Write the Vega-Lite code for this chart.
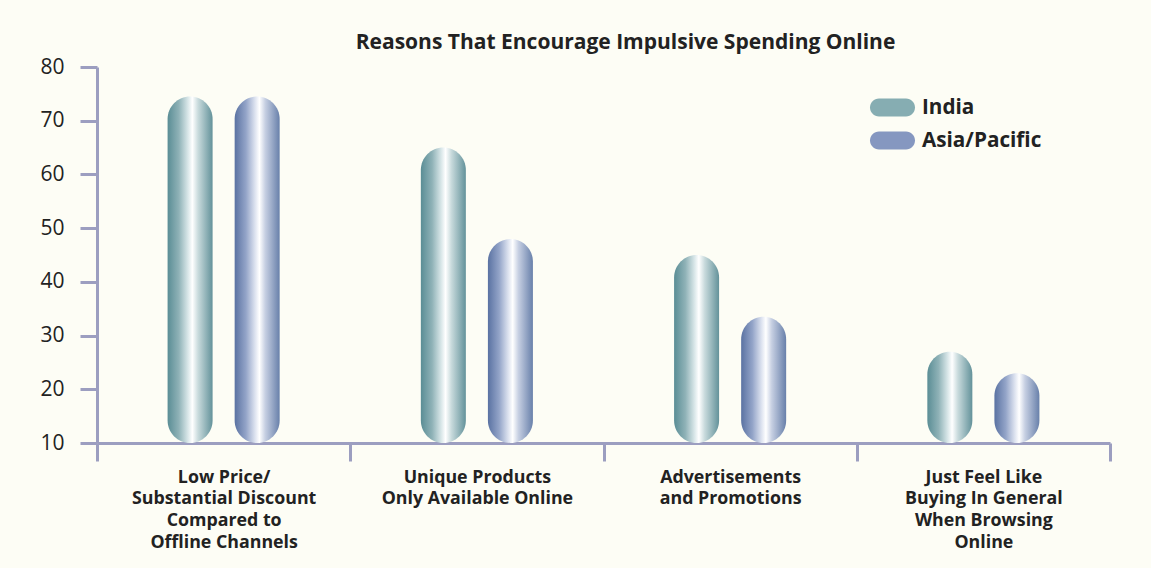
{
  "$schema": "https://vega.github.io/schema/vega-lite/v6.json",
  "autosize": {"type": "none"},
  "width": 1013,
  "height": 376,
  "padding": {"left": 97, "top": 67, "right": 41, "bottom": 125},
  "background": "#fdfdf5",
  "title": {
    "text": "Reasons That Encourage Impulsive Spending Online",
    "font": "Open Sans",
    "fontSize": 21,
    "fontWeight": "bold",
    "color": "#222222",
    "anchor": "middle",
    "dx": 22,
    "offset": 3
  },
  "data": {
    "values": [
      {"reason": "Low Price/|Substantial Discount|Compared to|Offline Channels", "region": "India", "value": 74.5},
      {"reason": "Low Price/|Substantial Discount|Compared to|Offline Channels", "region": "Asia/Pacific", "value": 74.5},
      {"reason": "Unique Products|Only Available Online", "region": "India", "value": 65},
      {"reason": "Unique Products|Only Available Online", "region": "Asia/Pacific", "value": 48},
      {"reason": "Advertisements|and Promotions", "region": "India", "value": 45},
      {"reason": "Advertisements|and Promotions", "region": "Asia/Pacific", "value": 33.5},
      {"reason": "Just Feel Like|Buying In General|When Browsing|Online", "region": "India", "value": 27},
      {"reason": "Just Feel Like|Buying In General|When Browsing|Online", "region": "Asia/Pacific", "value": 23}
    ]
  },
  "encoding": {
    "x": {
      "field": "reason",
      "type": "nominal",
      "sort": null,
      "scale": {"paddingInner": 0, "paddingOuter": 0},
      "axis": {
        "title": null,
        "labelAngle": 0,
        "labelExpr": "split(datum.label, '|')",
        "labelFont": "Open Sans",
        "labelFontSize": 17.8,
        "labelFontWeight": "bold",
        "labelColor": "#222222",
        "labelLineHeight": 21.7,
        "labelPadding": 7,
        "labelBaseline": "top",
        "labelLimit": 400,
        "tickBand": "extent",
        "tickSize": 18,
        "tickWidth": 3,
        "tickColor": "#9c9ec0",
        "domainColor": "#9c9ec0",
        "domainWidth": 3
      }
    },
    "y": {
      "field": "value",
      "type": "quantitative",
      "scale": {"domain": [10, 80], "zero": false, "nice": false},
      "axis": {
        "title": null,
        "values": [10, 20, 30, 40, 50, 60, 70, 80],
        "grid": false,
        "labelFont": "Open Sans",
        "labelFontSize": 21,
        "labelColor": "#222222",
        "labelPadding": 16,
        "tickSize": 17,
        "tickWidth": 3,
        "tickColor": "#9c9ec0",
        "domainColor": "#9c9ec0",
        "domainWidth": 3
      }
    }
  },
  "layer": [
    {
      "mark": {"type": "bar", "opacity": 0, "width": 45},
      "encoding": {
        "y2": {"datum": 10},
        "color": {
          "field": "region",
          "type": "nominal",
          "scale": {"domain": ["India", "Asia/Pacific"], "range": ["#86adb2", "#8597c0"]},
          "legend": {
            "title": null,
            "orient": "none",
            "legendX": 773,
            "legendY": 18,
            "symbolType": "M-0.6,-0.4L0.6,-0.4A0.4,0.4 0 0 1 0.6,0.4L-0.6,0.4A0.4,0.4 0 0 1 -0.6,-0.4Z",
            "symbolSize": 2025,
            "symbolStrokeWidth": 0,
            "symbolOpacity": 1,
            "labelFont": "Open Sans",
            "labelFontSize": 20.7,
            "labelFontWeight": "bold",
            "labelColor": "#222222",
            "labelOffset": 7,
            "rowPadding": -15,
            "labelLimit": 300
          }
        }
      }
    },
    {
      "transform": [{"filter": "datum.region === 'India'"}],
      "mark": {
        "type": "bar", "width": 45, "cornerRadius": 22.5,
        "fill": {"gradient": "linear", "x1": 0, "x2": 1, "y1": 0, "y2": 0, "stops": [
          {"offset": 0, "color": "#5a8d95"},
          {"offset": 0.25, "color": "#8fb2b7"},
          {"offset": 0.45, "color": "#d8e6e8"},
          {"offset": 0.55, "color": "#ffffff"},
          {"offset": 0.68, "color": "#c8dadc"},
          {"offset": 1, "color": "#63929a"}
        ]}
      },
      "encoding": {
        "xOffset": {"field": "region", "type": "nominal", "scale": {"domain": ["India", "Asia/Pacific"], "paddingInner": 0, "paddingOuter": 0.888}},
        "y2": {"datum": 10}
      }
    },
    {
      "transform": [{"filter": "datum.region === 'Asia/Pacific'"}],
      "mark": {
        "type": "bar", "width": 45, "cornerRadius": 22.5,
        "fill": {"gradient": "linear", "x1": 0, "x2": 1, "y1": 0, "y2": 0, "stops": [
          {"offset": 0, "color": "#5a72a2"},
          {"offset": 0.25, "color": "#93a4c8"},
          {"offset": 0.45, "color": "#dce2ef"},
          {"offset": 0.55, "color": "#ffffff"},
          {"offset": 0.68, "color": "#c6cfe2"},
          {"offset": 1, "color": "#6880aa"}
        ]}
      },
      "encoding": {
        "xOffset": {"field": "region", "type": "nominal", "scale": {"domain": ["India", "Asia/Pacific"], "paddingInner": 0, "paddingOuter": 0.888}},
        "y2": {"datum": 10}
      }
    }
  ],
  "config": {"view": {"stroke": null}}
}
